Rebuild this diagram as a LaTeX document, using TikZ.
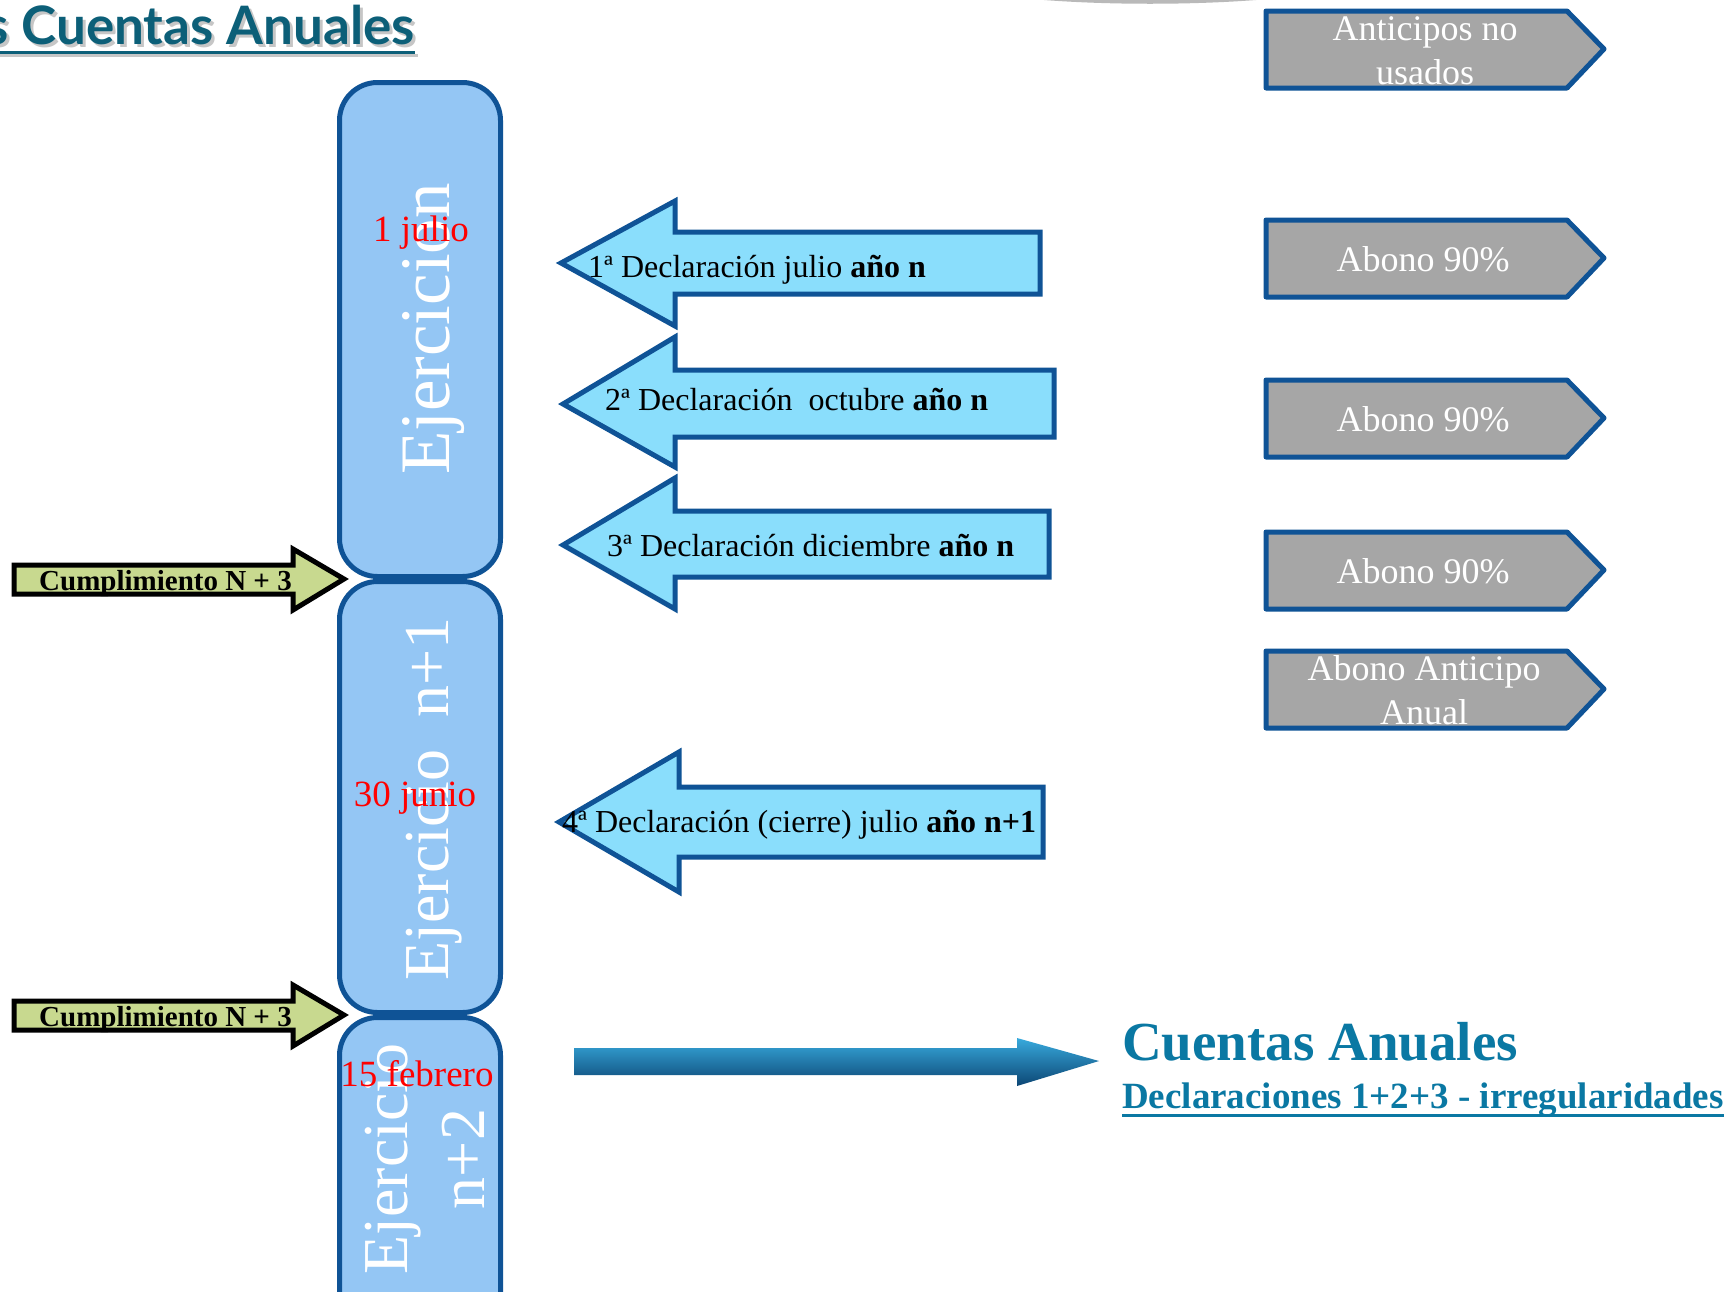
\documentclass[tikz,border=0pt]{standalone}
\usepackage{fontspec}
\setmainfont{Liberation Serif}
\newfontfamily\titlefont{Lato}
\definecolor{bordb}{HTML}{0F5396}
\definecolor{boxfill}{HTML}{94C6F4}
\definecolor{arrfill}{HTML}{8ADEFC}
\definecolor{grayfill}{HTML}{A6A6A6}
\definecolor{cumfill}{HTML}{C8D98F}
\definecolor{titlecol}{HTML}{0C5F78}
\definecolor{cacol}{HTML}{0A78A3}
\definecolor{bigtop}{HTML}{38AADD}
\definecolor{bigmid}{HTML}{1C6F98}
\definecolor{bigbot}{HTML}{0C4674}
\tikzset{
  ejbox/.style={draw=bordb, line width=5pt, fill=boxfill, rounded corners=38pt, inner sep=0pt},
  declar/.style={draw=bordb, line width=5pt, fill=arrfill, line join=miter},
  penta/.style={draw=bordb, line width=5pt, fill=grayfill, line join=round},
  cumpl/.style={draw=black, line width=5pt, fill=cumfill, line join=miter},
  dectext/.style={inner sep=0pt, font=\fontsize{32pt}{38pt}\selectfont, anchor=base west},
  pentext/.style={inner sep=0pt, text=white, align=center, font=\fontsize{36pt}{44pt}\selectfont, anchor=base},
  cumtext/.style={inner sep=0pt, font=\bfseries\fontsize{29pt}{34pt}\selectfont, anchor=base west},
  ejtext/.style={inner sep=0pt, text=white, rotate=90, anchor=base, align=center},
  datetext/.style={inner sep=0pt, text=red, font=\fontsize{37pt}{44pt}\selectfont, anchor=base},
  titletext/.style={inner sep=0pt, anchor=base east, font=\titlefont\bfseries\fontsize{53pt}{60pt}\selectfont},
}
\begin{document}
\begin{tikzpicture}[x=1pt,y=-1pt]
\useasboundingbox (0,0) rectangle (1734,1291);
\fill[white] (0,0) rectangle (1734,1291);

% faint grey edge at top
\fill[gray!55] (1044,0) .. controls (1110,5) and (1190,5) .. (1256,0) -- cycle;

% title
\node[titletext, text=gray!45] (titleshadow) at (418,47) {s Cuentas Anuales};
\draw[gray!45, line width=3pt] ([yshift=-8pt]titleshadow.base west) -- ([yshift=-8pt]titleshadow.base east);
\node[titletext, text=titlecol] (title) at (415,44) {s Cuentas Anuales};
\draw[titlecol, line width=3pt] ([yshift=-8pt]title.base west) -- ([yshift=-8pt]title.base east);

% exercise boxes
\node[ejbox, minimum width=161pt, minimum height=494pt] (box1) at (420,329.5) {};
\node[ejbox, minimum width=161pt, minimum height=431pt] (box2) at (420,797) {};
\node[ejbox, minimum width=161pt, minimum height=320pt] (box3) at (420,1177.5) {};

\node[ejtext, font=\fontsize{71pt}{80pt}\selectfont] (ej1) at (449,329) {Ejercicion};
\node[ejtext, font=\fontsize{64pt}{77pt}\selectfont] (ej2) at (448,799) {Ejercicio\ \ n+1};
\node[ejtext, font=\fontsize{64pt}{77pt}\selectfont] (ej3) at (484,1159) {Ejercicio\\n+2};

\node[datetext] (d1) at (421,241) {1 julio};
\node[datetext] (d2) at (415,806) {30 junio};
\node[datetext] (d3) at (417,1086) {15 febrero};

% cumplimiento arrows
\draw[cumpl] (14,565) -- (293,565) -- (293,549) -- (344,579) -- (293,610) -- (293,594) -- (14,594) -- cycle;
\node[cumtext] (c1) at (39,590) {Cumplimiento N + 3};
\draw[cumpl] (14,1001) -- (293,1001) -- (293,985) -- (344,1015) -- (293,1046) -- (293,1030) -- (14,1030) -- cycle;
\node[cumtext] (c2) at (39,1026) {Cumplimiento N + 3};

% declaration arrows
\draw[declar] (561,263) -- (675,201) -- (675,232) -- (1040,232) -- (1040,294) -- (675,294) -- (675,326) -- cycle;
\node[dectext] (t1) at (588,277) {1ª Declaración julio \textbf{año n}};
\draw[declar] (563,404) -- (675,337) -- (675,370) -- (1054,370) -- (1054,437) -- (675,437) -- (675,467) -- cycle;
\node[dectext] (t2) at (605,410) {2ª Declaración\ \ octubre \textbf{año n}};
\draw[declar] (563,545) -- (675,478) -- (675,511) -- (1049,511) -- (1049,577) -- (675,577) -- (675,609) -- cycle;
\node[dectext] (t3) at (607,556) {3ª Declaración diciembre \textbf{año n}};
\draw[declar] (559,822) -- (679,752) -- (679,787) -- (1043,787) -- (1043,857) -- (679,857) -- (679,892) -- cycle;
\node[dectext] (t4) at (562,832) {4ª Declaración (cierre) julio \textbf{año n+1}};

% grey pentagons
\draw[penta] (1266,11) -- (1567,11) -- (1604,49) -- (1567,88) -- (1266,88) -- cycle;
\node[pentext] (p1) at (1425,84) {Anticipos no\\usados};
\draw[penta] (1266,220) -- (1567,220) -- (1604,258) -- (1567,297) -- (1266,297) -- cycle;
\node[pentext] (p2) at (1423,271) {Abono 90\%};
\draw[penta] (1266,380) -- (1567,380) -- (1604,418) -- (1567,457) -- (1266,457) -- cycle;
\node[pentext] (p3) at (1423,431) {Abono 90\%};
\draw[penta] (1266,532) -- (1567,532) -- (1604,570) -- (1567,609) -- (1266,609) -- cycle;
\node[pentext] (p4) at (1423,583) {Abono 90\%};
\draw[penta] (1266,651) -- (1567,651) -- (1604,689) -- (1567,728) -- (1266,728) -- cycle;
\node[pentext] (p5) at (1424,724) {Abono Anticipo\\Anual};

% big arrow to annual accounts
\shade[top color=bigtop, middle color=bigmid, bottom color=bigbot]
  (574,1048) -- (1017,1048) -- (1017,1038) -- (1099,1061) -- (1017,1086) -- (1017,1075) -- (574,1075) -- cycle;

\node[inner sep=0pt, anchor=base west, text=cacol, font=\bfseries\fontsize{55pt}{64pt}\selectfont] (ca) at (1122,1060) {Cuentas Anuales};
\node[inner sep=0pt, anchor=base west, text=cacol, font=\bfseries\fontsize{37pt}{44pt}\selectfont] (dec) at (1122,1108) {Declaraciones 1+2+3 - irregularidades};
\draw[cacol, line width=3pt] ([yshift=-7pt]dec.base west) -- ([yshift=-7pt]dec.base east);
\end{tikzpicture}
\end{document}
